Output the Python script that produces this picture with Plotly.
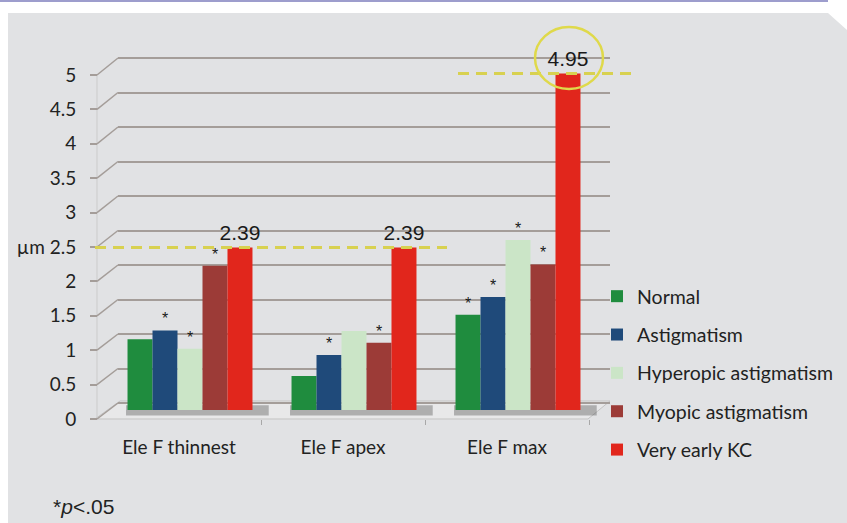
import plotly.graph_objects as go

# ---- data -------------------------------------------------------------
categories = ["Ele F thinnest", "Ele F apex", "Ele F max"]
series_names = ["Normal", "Astigmatism", "Hyperopic astigmatism",
                "Myopic astigmatism", "Very early KC"]
normal = [1.04, 0.50, 1.40]
astigmatism = [1.17, 0.81, 1.66]
hyperopic = [0.90, 1.16, 2.50]
myopic = [2.12, 0.99, 2.14]
very_early_kc = [2.39, 2.39, 4.95]
# significance flags (p < .05) per group
sig_normal = [False, False, True]
sig_astig = [True, True, True]
sig_hyper = [True, False, True]
sig_myopic = [True, True, True]

tick_vals = [0, 0.5, 1, 1.5, 2, 2.5, 3, 3.5, 4, 4.5, 5]
tick_text = ["0", "0.5", "1", "1.5", "2", "µm 2.5", "3", "3.5", "4", "4.5", "5"]

colors = ["#1f8c3e", "#1f4a7a", "#cbe5c7", "#9c3b37", "#e1261c"]

# ---- geometry (pixels) -------------------------------------------------
W, H = 847, 523
L, R, T, B = 97, 207, 30, 91
PW, PH = W - L - R, H - T - B
PLOT_BOTTOM = H - B


def px_x(px):
    return (px - L) / PW


def px_y(py):
    return (PLOT_BOTTOM - py) / PH


# three depth planes of the 3-D box: front edge, bar plane, back wall
FRONT0, FRONT_K = 419, 68.8
BAR0, BAR_K = 410, 68.0
BACK0, BACK_K = 403, 69.0
FRONT_X, BACK_X, RIGHT_X = 97, 118, 610
CAT_W = 164
BAR_C0 = 190      # centre of first bar group
LABEL_C0 = 179    # centre of first category label on the front edge


def rng(zero_px, k):
    return [(zero_px - PLOT_BOTTOM) / k, (zero_px - T) / k]


def front_px(v):
    return FRONT0 - FRONT_K * v


def back_px(v):
    return BACK0 - BACK_K * v


text_font = "Lato, 'Open Sans', sans-serif"
num_font = "'Liberation Sans Narrow', 'Liberation Sans', Arial, sans-serif"

fig = go.Figure()

values = [normal, astigmatism, hyperopic, myopic, very_early_kc]
flags = [sig_normal, sig_astig, sig_hyper, sig_myopic, None]
for i, (name, vals, col, fl) in enumerate(zip(series_names, values, colors, flags)):
    if fl is None:
        texts = [f"{v:.2f}" for v in vals]
        sizes = [21] * len(vals)
        fams = [num_font] * len(vals)
    else:
        texts = ["*" if f else "" for f in fl]
        sizes = [16] * len(vals)
        fams = ["'Liberation Sans', Arial, sans-serif"] * len(vals)
    fig.add_trace(go.Bar(
        x=categories, y=vals, name=name, legendgroup=name,
        marker=dict(color=col, line=dict(width=0)),
        text=texts, textposition="outside", constraintext="none",
        cliponaxis=False,
        textfont=dict(size=sizes, family=fams, color="#1a1a1a"),
        hoverinfo="skip",
    ))

# empty trace that ties the front-edge category axis and the back-wall grid axis
fig.add_trace(go.Scatter(x=[None], y=[None], xaxis="x2", yaxis="y3",
                         mode="markers", showlegend=False, hoverinfo="skip"))

shapes = []
# grey panel with clipped top-right corner
panel = [(8, 13), (828, 13), (847, 30), (847, 523), (8, 523)]
shapes.append(dict(
    type="path", xref="paper", yref="paper", layer="below",
    path="M " + " L ".join(f"{px_x(a):.5f},{px_y(b):.5f}" for a, b in panel) + " Z",
    fillcolor="#e1e2e4", line=dict(width=0)))
# thin rule at the very top
shapes.append(dict(type="line", xref="paper", yref="paper", layer="below",
                   x0=px_x(0), x1=px_x(828), y0=px_y(1), y1=px_y(1),
                   line=dict(color="#9d9dcd", width=2)))
# floor of the box
floor = [(95, FRONT0), (588, FRONT0), (RIGHT_X, back_px(0) - 2), (120, back_px(0) - 2)]
shapes.append(dict(
    type="path", xref="paper", yref="paper", layer="below",
    path="M " + " L ".join(f"{px_x(a):.5f},{px_y(b):.5f}" for a, b in floor) + " Z",
    fillcolor="#e8e8e9", line=dict(color="#c3c3c3", width=1)))
# front-left vertical edge
shapes.append(dict(type="line", xref="paper", yref="y2", layer="below",
                   x0=px_x(FRONT_X), x1=px_x(FRONT_X), y0=0, y1=tick_vals[-1],
                   line=dict(color="#cbcbcb", width=1)))
# side-wall lines joining front ticks to the back gridlines
for v in tick_vals:
    shapes.append(dict(type="line", xref="paper", yref="paper", layer="below",
                       x0=px_x(FRONT_X), y0=px_y(front_px(v)),
                       x1=px_x(BACK_X), y1=px_y(back_px(v)),
                       line=dict(color="#a49d99", width=1.5)))
# shadows of bar groups on the floor
for i in range(len(categories)):
    shapes.append(dict(type="rect", xref="x", yref="y", layer="between",
                       x0=i - 0.39, x1=i + 0.48, y0=-0.08, y1=0.07,
                       fillcolor="rgba(80,80,80,0.38)", line=dict(width=0)))
# reference lines at the Very early KC values
dash_col = "#d8d150"
shapes.append(dict(type="line", xref="paper", yref="y", layer="above",
                   x0=px_x(95), x1=px_x(447), y0=very_early_kc[0], y1=very_early_kc[0],
                   line=dict(color=dash_col, width=3, dash="11px,7px")))
shapes.append(dict(type="line", xref="paper", yref="y", layer="above",
                   x0=px_x(458), x1=px_x(635), y0=very_early_kc[2], y1=very_early_kc[2],
                   line=dict(color=dash_col, width=3, dash="11px,7px")))
# highlight circle around the maximum value
shapes.append(dict(type="circle", xref="paper", yref="paper", layer="above",
                   x0=px_x(535), x1=px_x(603), y0=px_y(89), y1=px_y(27),
                   line=dict(color="#dfd94a", width=2.5)))

fig.update_layout(
    width=W, height=H,
    margin=dict(l=L, r=R, t=T, b=B, pad=0, autoexpand=False),
    paper_bgcolor="white", plot_bgcolor="rgba(0,0,0,0)",
    barmode="group", bargap=0.238, bargroupgap=0,
    showlegend=True,
    legend=dict(x=px_x(597), y=px_y(277), xanchor="left", yanchor="top",
                bgcolor="rgba(0,0,0,0)", traceorder="grouped",
                tracegroupgap=10,
                font=dict(family=text_font, size=19.5, color="#222222")),
    xaxis=dict(domain=[px_x(BACK_X), px_x(RIGHT_X)], type="category",
               range=[(BACK_X - BAR_C0) / CAT_W, (RIGHT_X - BAR_C0) / CAT_W],
               showticklabels=False, showgrid=False, zeroline=False,
               showline=False, ticks=""),
    xaxis2=dict(overlaying="x", anchor="free", position=px_y(FRONT0),
                range=[(BACK_X - LABEL_C0) / CAT_W, (RIGHT_X - LABEL_C0) / CAT_W],
                tickmode="array", tickvals=[0, 1, 2], ticktext=categories,
                ticks="", showgrid=False, zeroline=False, showline=False,
                ticklabelstandoff=15, automargin=False,
                tickfont=dict(family=text_font, size=19, color="#222222"),
                minor=dict(tickmode="array", tickvals=[0.5, 1.5, 2.5],
                           ticks="outside", ticklen=5, tickcolor="#a8a8a8",
                           tickwidth=1, showgrid=False)),
    yaxis=dict(range=rng(BAR0, BAR_K), showticklabels=False, showgrid=False,
               zeroline=False, showline=False, ticks=""),
    yaxis2=dict(overlaying="y", anchor="free", position=0, side="left",
                range=rng(FRONT0, FRONT_K), tickmode="array",
                tickvals=tick_vals, ticktext=tick_text,
                ticks="outside", ticklen=7, tickcolor="#a49d99", tickwidth=1.5,
                showgrid=False, zeroline=False, showline=False,
                ticklabelstandoff=10, automargin=False,
                tickfont=dict(family=text_font, size=19, color="#222222")),
    yaxis3=dict(overlaying="y", side="left", range=rng(BACK0, BACK_K),
                tickmode="array", tickvals=tick_vals, showticklabels=False,
                ticks="", showgrid=True, gridcolor="#a49d99", gridwidth=1.5,
                zeroline=False, showline=False),
    shapes=shapes,
    annotations=[dict(xref="paper", yref="paper", x=px_x(51), y=px_y(506),
                      xanchor="left", yanchor="middle", showarrow=False,
                      text="*<i>p</i>&lt;.05",
                      font=dict(family="'Liberation Sans', Arial, sans-serif",
                                size=21, color="#222222"))],
)

fig.write_html("out.html")
